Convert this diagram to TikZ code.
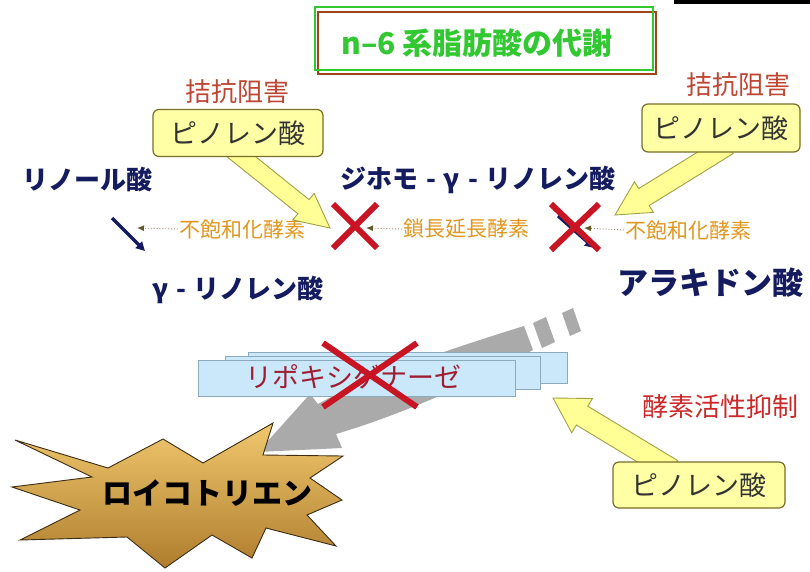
\documentclass[tikz,border=0pt]{standalone}
\usepackage{fontspec}
\setmainfont{Noto Sans CJK JP}
\usetikzlibrary{calc,arrows.meta}
\definecolor{navy}{RGB}{20,28,95}
\definecolor{enzorange}{RGB}{225,150,30}
\definecolor{antred}{RGB}{190,70,50}
\definecolor{inhred}{RGB}{205,40,40}
\definecolor{pinofill}{RGB}{255,255,165}
\definecolor{boxedge}{RGB}{120,110,40}
\definecolor{arrowfill}{RGB}{255,255,150}
\definecolor{arrowedge}{RGB}{160,160,70}
\definecolor{xred}{RGB}{200,20,35}
\definecolor{titlegreen}{RGB}{50,200,50}
\definecolor{titlebrown}{RGB}{160,70,20}
\definecolor{lipofill}{RGB}{202,232,250}
\definecolor{lipoedge}{RGB}{140,170,190}
\definecolor{lipotext}{RGB}{160,30,50}
\definecolor{greyarrow}{RGB}{170,170,170}
\definecolor{dotcol}{RGB}{150,130,110}
\definecolor{tipcol}{RGB}{100,90,40}
\definecolor{startop}{RGB}{240,200,110}
\definecolor{starbot}{RGB}{175,125,45}
\definecolor{staredge}{RGB}{60,45,20}
\newcommand\fatarrow[6]{%
  \coordinate (fa-h) at ($(#3)!#6!(#2)$);
  \path[#1] ($(#2)!#4!90:(#3)$) -- ($(fa-h)!#4!90:(#3)$) -- ($(fa-h)!#5!90:(#3)$)
    -- (#3) -- ($(fa-h)!#5!-90:(#3)$) -- ($(fa-h)!#4!-90:(#3)$) -- ($(#2)!#4!-90:(#3)$) -- cycle;}
\tikzset{
  navylab/.style={text=navy, font=\bfseries\fontsize{26}{28}\selectfont, inner sep=0pt},
  enzlab/.style={text=enzorange, font=\fontsize{21}{23}\selectfont, inner sep=1pt},
  antag/.style={text=antred, font=\fontsize{26}{28}\selectfont, inner sep=0pt},
  pinobox/.style={draw=boxedge, line width=1.2pt, fill=pinofill, rounded corners=6pt,
    minimum width=170pt, minimum height=47pt, font=\fontsize{27}{29}\selectfont, text=black!80},
  yarrow/.style={fill=arrowfill, draw=arrowedge, line width=0.9pt, line join=miter},
  crossx/.style={draw=xred, line width=6pt},
  dotarr/.style={dotted, draw=dotcol, line width=0.9pt, -{Latex[length=7pt,width=6pt,color=tipcol]}},
  navyarr/.style={draw=navy, line width=3.2pt, -{Triangle[length=9pt,width=9pt]}},
  lipobox/.style={draw=lipoedge, line width=0.8pt, fill=lipofill},
}
\begin{document}
\begin{tikzpicture}[x=1pt,y=-1pt]
\useasboundingbox (0,0) rectangle (810,571);
\fill[white] (0,0) rectangle (810,571);

% top-right black rule
\coordinate (ruleA) at (674,2);
\coordinate (ruleB) at (810,2);
\draw[black, line width=3.5pt] (ruleA) -- (ruleB);

% title
\draw[titlebrown, line width=2.6pt] (318,12) rectangle (656,74);
\draw[titlegreen, line width=2pt] (315,7) rectangle (653,70);
\node[text=titlegreen, font=\bfseries\fontsize{30}{32}\selectfont, inner sep=0pt] (title) at (477,43) {n–6 系脂肪酸の代謝};

% labels
\node[antag] (antL) at (237,92) {拮抗阻害};
\node[antag] (antR) at (738,85) {拮抗阻害};
\node[text=inhred, font=\fontsize{26}{28}\selectfont, inner sep=0pt] (inh) at (720,407) {酵素活性抑制};

\node[navylab] (lino) at (87,180) {リノール酸};
\node[navylab] (dgla) at (478,180) {ジホモ\hspace{8pt}-\hspace{8pt}γ\hspace{8pt}-\hspace{8pt}リノレン酸};
\node[navylab] (gla) at (238,290) {γ\hspace{8pt}-\hspace{8pt}リノレン酸};
\node[navylab, font=\bfseries\fontsize{31}{33}\selectfont] (ara) at (710,283) {アラキドン酸};

% navy step arrows
\coordinate (nA1) at (112,218); \coordinate (nA2) at (145,251);
\draw[navyarr] (nA1) -- (nA2);
\coordinate (nB1) at (558,216); \coordinate (nB2) at (594,248);
\draw[navyarr] (nB1) -- (nB2);

% enzyme labels and dotted arrows
\node[enzlab] (enz1) at (242,229) {不飽和化酵素};
\node[enzlab] (enz2) at (466,229) {鎖長延長酵素};
\node[enzlab] (enz3) at (688,230) {不飽和化酵素};
\coordinate (d1) at (137,228);
\coordinate (d2) at (366,228);
\coordinate (d3) at (584,228);
\draw[dotarr] (enz1.west) -- (d1);
\draw[dotarr] (enz2.west) -- (d2);
\draw[dotarr] (enz3.west) -- (d3);

% red crosses on the pathway
\coordinate (x1) at (355,226);
\draw[crossx] ($(x1)+(-22,-22)$) -- ($(x1)+(22,22)$);
\draw[crossx] ($(x1)+(22,-22)$) -- ($(x1)+(-22,22)$);
\coordinate (x2) at (575,227);
\draw[crossx] ($(x2)+(-24,-23)$) -- ($(x2)+(24,23)$);
\draw[crossx] ($(x2)+(24,-23)$) -- ($(x2)+(-24,23)$);

% yellow arrows and pinolenic acid boxes
\coordinate (yL1) at (233,150); \coordinate (yL2) at (330,228);
\fatarrow{yarrow}{yL1}{yL2}{9pt}{17pt}{34pt}
\node[pinobox] (pinoL) at (238,133) {ピノレン酸};

\coordinate (yR1) at (728,145); \coordinate (yR2) at (615,215);
\fatarrow{yarrow}{yR1}{yR2}{10pt}{18pt}{34pt}
\node[pinobox, minimum width=158pt, minimum height=48pt] (pinoR) at (721,128) {ピノレン酸};

\coordinate (yB1) at (672,470); \coordinate (yB2) at (553,398);
\fatarrow{yarrow}{yB1}{yB2}{11pt}{20pt}{34pt}
\node[pinobox, minimum width=172pt, minimum height=46pt] (pinoB) at (699,485) {ピノレン酸};

% grey curved arrow
\fill[greyarrow] (258,452) -- (342,448) -- (336,434)
  .. controls (390,418) and (460,390) .. (533,350) -- (524,326)
  .. controls (440,352) and (360,380) .. (318,404) -- (310,394) -- cycle;
\fill[greyarrow] (533,323) -- (546,317) -- (555,342) -- (542,348) -- cycle;
\fill[greyarrow] (562,313) -- (573,308) -- (581,331) -- (570,336) -- cycle;

% lipoxygenase stack
\draw[lipobox] (248,352) rectangle (567,383);
\draw[lipobox] (225,356) rectangle (540,389);
\draw[lipobox] (198,360) rectangle (515,396);
\node[text=lipotext, font=\fontsize{27}{29}\selectfont, inner sep=0pt] (lipo) at (353,377) {リポキシゲナーゼ};
\coordinate (x3) at (370,375);
\draw[crossx] ($(x3)+(-47,-32)$) -- ($(x3)+(47,32)$);
\draw[crossx] ($(x3)+(47,-32)$) -- ($(x3)+(-47,32)$);

% leukotriene starburst
\shade[top color=startop, bottom color=starbot, draw=staredge, line width=0.9pt, line join=miter]
  (15,440) -- (108,468) -- (163,439) -- (203,463) -- (273,423) -- (263,455)
  -- (343,456) -- (310,478) -- (342,500) -- (307,515) -- (336,546) -- (266,528)
  -- (252,558) -- (212,535) -- (165,568) -- (127,537) -- (20,540) -- (80,510)
  -- (12,487) -- (92,477) -- cycle;
\node[text=black, font=\bfseries\fontsize{30}{32}\selectfont, inner sep=0pt] (leuko) at (207,493) {ロイコトリエン};
\end{tikzpicture}
\end{document}
